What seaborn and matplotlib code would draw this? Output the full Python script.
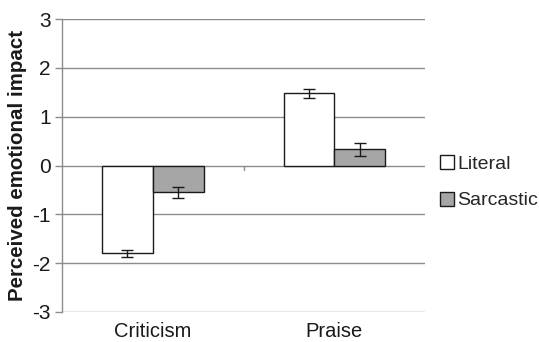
import matplotlib
matplotlib.use("Agg")
import matplotlib.pyplot as plt
import seaborn as sns
import pandas as pd
from matplotlib.patches import Patch

categories = ["Criticism", "Praise"]
series = ["Literal", "Sarcastic"]
literal_means = [-1.80, 1.48]
sarcastic_means = [-0.55, 0.33]
literal_err = [0.07, 0.09]
sarcastic_err = [0.12, 0.14]
y_ticks = [-3, -2, -1, 0, 1, 2, 3]

df = pd.DataFrame({
    "condition": categories * 2,
    "type": [series[0]] * 2 + [series[1]] * 2,
    "impact": literal_means + sarcastic_means,
    "err": literal_err + sarcastic_err,
})

sns.set_style("white")
plt.rcParams["font.family"] = ["Liberation Sans", "DejaVu Sans"]

fig = plt.figure(figsize=(5.39, 3.42), dpi=100)
ax = fig.add_axes([0.115, 0.088, 0.674, 0.856])

colors = {"Literal": "#ffffff", "Sarcastic": "#a6a6a6"}
sns.barplot(data=df, x="condition", y="impact", hue="type", order=categories,
            hue_order=series, palette=colors, width=0.56, errorbar=None,
            edgecolor="#1a1a1a", linewidth=1.0, ax=ax, zorder=3, legend=False)

# error bars centred on each bar
for cont, s in zip(ax.containers, series):
    sub = df[df["type"] == s].set_index("condition").loc[categories]
    xs = [p.get_x() + p.get_width() / 2 for p in cont.patches]
    ax.errorbar(xs, sub["impact"], yerr=sub["err"], fmt="none",
                ecolor="#1a1a1a", elinewidth=1.0, capsize=4, capthick=1.0, zorder=4)

ax.set_ylim(-3, 3)
ax.set_xlim(-0.5, 1.5)
ax.set_yticks(y_ticks)
ax.set_yticklabels([str(t) for t in y_ticks])
for t in y_ticks:
    if t != 0:
        ax.axhline(t, color="#8c8c8c", lw=1.0, zorder=1)
ax.axhline(0, color="#8c8c8c", lw=1.0, zorder=2)
ax.plot([0.5, 0.5], [0, -0.09], color="#8c8c8c", lw=1.0, zorder=2)

for s in ["top", "right", "bottom"]:
    ax.spines[s].set_visible(False)
ax.spines["left"].set_color("#8c8c8c")
ax.spines["left"].set_linewidth(1.0)

ax.tick_params(axis="y", left=True, length=5, width=1.0, color="#8c8c8c",
               labelsize=15, pad=3, labelcolor="#1a1a1a")
ax.tick_params(axis="x", bottom=False, labelsize=14.5, pad=4, labelcolor="#1a1a1a")
ax.set_xlabel("")
ax.set_ylabel("Perceived emotional impact", fontsize=14.8, fontweight="bold",
              color="#1a1a1a", labelpad=4)

handles = [Patch(facecolor=colors[s], edgecolor="#1a1a1a", linewidth=1.0) for s in series]
fig.legend(handles, series, loc="center left", bbox_to_anchor=(0.816, 0.467),
           frameon=False, fontsize=14, handlelength=0.75, handleheight=0.75,
           handletextpad=0.15, labelspacing=0.95, borderaxespad=0, borderpad=0)

fig.savefig("out.png", dpi=100, facecolor="white")
